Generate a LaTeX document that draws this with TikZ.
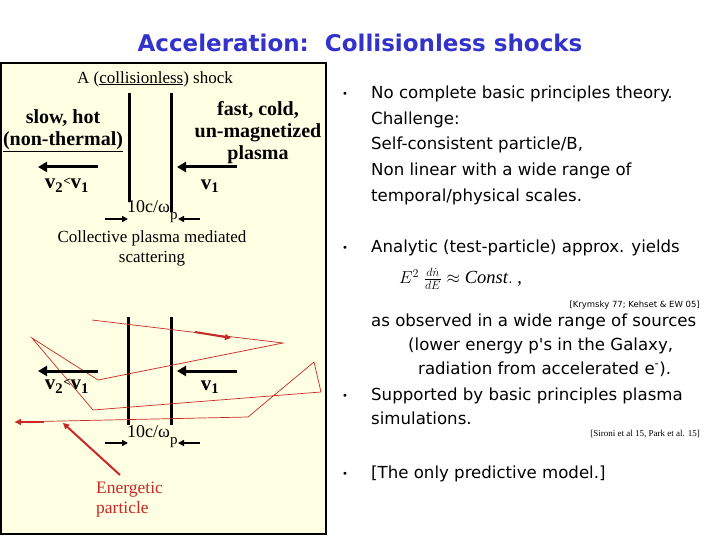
\documentclass[tikz,border=0pt]{standalone}
\usepackage{fontspec}
\setmainfont{Liberation Serif}
\newfontfamily\comic{DejaVu Sans}
\usetikzlibrary{arrows.meta}
\definecolor{titleblue}{RGB}{51,51,204}
\definecolor{cream}{RGB}{255,255,228}
\definecolor{pred}{RGB}{200,40,40}
\begin{document}
\begin{tikzpicture}[x=1pt,y=-1pt,
  lab/.style={font=\fontsize{17}{20}\selectfont, inner sep=0pt, align=center},
  blab/.style={font=\bfseries\fontsize{20}{22}\selectfont, inner sep=0pt, align=center},
  vlab/.style={font=\bfseries\fontsize{21}{22}\selectfont, inner sep=0pt},
  front/.style={line width=3pt},
  vel/.style={line width=3pt, -{Triangle[length=9pt,width=10pt]}},
  tarrow/.style={line width=1.5pt, -{Triangle[length=6pt,width=6pt]}},
  body/.style={font=\comic\fontsize{16.6}{20}\selectfont, anchor=west, inner sep=0pt},
  bul/.style={font=\comic\fontsize{10}{12}\selectfont, inner sep=0pt},
  refs/.style={font=\comic\fontsize{8.5}{10}\selectfont, anchor=east, inner sep=0pt},
  path/.style={pred, line width=0.7pt},
  parrow/.style={pred, line width=2pt, -{Triangle[length=6pt,width=6pt]}},
  scale label/.style={font=\fontsize{18}{20}\selectfont, inner sep=0pt, anchor=base west}
]
\useasboundingbox (0,0) rectangle (720,540);
\fill[white] (0,0) rectangle (720,540);

% title
\node[font=\comic\bfseries\fontsize{23}{26}\selectfont, text=titleblue, inner sep=0pt] (title) at (360,43) {Acceleration:\ \ Collisionless shocks};

% left panel
\draw[line width=1.5pt, fill=cream] (1,63) rectangle (326,534);

\node[lab] (shock) at (155,79) {A (\underline{collisionless}) shock};
\node[blab] (slow) at (63,131) {slow, hot\\\underline{(non-thermal)}};
\node[blab] (fast) at (258,133) {fast, cold,\\un-magnetized\\plasma};

% upper shock
\coordinate (f1t) at (129,93);  \coordinate (f1b) at (129,202);
\coordinate (f2t) at (171,93);  \coordinate (f2b) at (171,212);
\draw[front] (f1t) -- (f1b);
\draw[front] (f2t) -- (f2b);
\coordinate (va1s) at (98,167);  \coordinate (va1e) at (38,167);
\coordinate (vb1s) at (237,167); \coordinate (vb1e) at (177,167);
\draw[vel] (va1s) -- (va1e);
\draw[vel] (vb1s) -- (vb1e);
\node[vlab] (v2a) at (67,185) {v\textsubscript{2}\raisebox{0.35ex}{\fontsize{13}{13}\selectfont<}v\textsubscript{1}};
\node[vlab] (v1a) at (210,186) {v\textsubscript{1}};
\node[scale label] (wa) at (127,212) {10c/ω\raisebox{-7pt}{\fontsize{15}{15}\selectfont p}};
\coordinate (wa1s) at (105,219); \coordinate (wa1e) at (128,219);
\coordinate (wa2s) at (200,219); \coordinate (wa2e) at (178,219);
\draw[tarrow] (wa1s) -- (wa1e);
\draw[tarrow] (wa2s) -- (wa2e);
\node[lab] (coll) at (152,248) {Collective plasma mediated\\scattering};

% lower shock
\coordinate (g1t) at (128,317);  \coordinate (g1b) at (128,425);
\coordinate (g2t) at (171,317);  \coordinate (g2b) at (171,425);
\draw[front] (g1t) -- (g1b);
\draw[front] (g2t) -- (g2b);

% particle trajectory
\coordinate (pA) at (92,320);
\coordinate (pB) at (283,343);
\coordinate (pC) at (98,380);
\coordinate (pD) at (32,338);
\coordinate (pE) at (93,410);
\coordinate (pF) at (321,392);
\coordinate (pG) at (314,362);
\coordinate (pH) at (248,417);
\coordinate (pI) at (15,422);
\draw[path] (pA) -- (pB) -- (pC) -- (pD) -- (pE) -- (pF) -- (pG) -- (pH) -- (pI);
\coordinate (ar1s) at (195,332); \coordinate (ar1e) at (231,338);
\draw[parrow] (ar1s) -- (ar1e);
\coordinate (ar2s) at (44,422); \coordinate (ar2e) at (15,422);
\draw[parrow] (ar2s) -- (ar2e);

\coordinate (vc1s) at (98,371);  \coordinate (vc1e) at (38,371);
\coordinate (vd1s) at (237,371); \coordinate (vd1e) at (177,371);
\draw[vel] (vc1s) -- (vc1e);
\draw[vel] (vd1s) -- (vd1e);
\node[vlab] (v2b) at (67,386) {v\textsubscript{2}\raisebox{0.35ex}{\fontsize{13}{13}\selectfont<}v\textsubscript{1}};
\node[vlab] (v1b) at (210,387) {v\textsubscript{1}};
\node[scale label] (wb) at (127,437) {10c/ω\raisebox{-7pt}{\fontsize{15}{15}\selectfont p}};
\coordinate (wb1s) at (105,443); \coordinate (wb1e) at (128,443);
\coordinate (wb2s) at (200,443); \coordinate (wb2e) at (178,443);
\draw[tarrow] (wb1s) -- (wb1e);
\draw[tarrow] (wb2s) -- (wb2e);

\node[font=\fontsize{17.5}{20}\selectfont, text=pred, align=left, anchor=north west, inner sep=0pt] (energ) at (96,482) {Energetic\\particle};
\coordinate (ptip) at (63,423);
\coordinate (ptail) at (120,475);
\draw[parrow] (ptail) -- (ptip);

% right text
\node[bul] (b1) at (345,95) {•};
\node[body] (t1) at (371,94) {No complete basic principles theory.};
\node[body] (t2) at (371,119.5) {Challenge:};
\node[body] (t3) at (371,145) {Self-consistent particle/B,};
\node[body] (t4) at (371,171) {Non linear with a wide range of};
\node[body] (t5) at (371,197) {temporal/physical scales.};

\node[bul] (b2) at (345,249) {•};
\node[body] (t6) at (371,248) {Analytic (test-particle) approx. yields};
\node[font=\fontsize{18.5}{20}\selectfont, anchor=west, inner sep=0pt] (eq) at (399,279) {$E^2\;\frac{d\dot n}{dE}\approx \mathit{Const.}$\ ,};
\node[refs] (r1) at (700,305) {[Krymsky 77; Kehset \& EW 05]};
\node[body] (t7) at (371,322) {as observed in a wide range of sources};
\node[body] (t8) at (408,346) {(lower energy p's in the Galaxy,};
\node[body] (t9) at (418,369) {radiation from accelerated e\textsuperscript{-}).};

\node[bul] (b3) at (345,397) {•};
\node[body] (t10) at (371,396) {Supported by basic principles plasma};
\node[body] (t11) at (371,418) {simulations.};
\node[font=\fontsize{9}{10}\selectfont, anchor=east, inner sep=0pt] (r2) at (700,434) {[Sironi et al 15, Park et al. 15]};

\node[bul] (b4) at (345,475) {•};
\node[body] (t12) at (371,474) {[The only predictive model.]};
\end{tikzpicture}
\end{document}
